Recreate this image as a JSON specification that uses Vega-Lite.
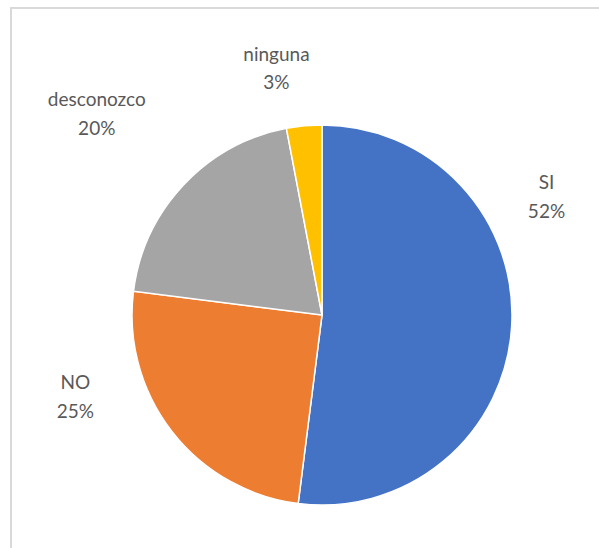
{
  "$schema": "https://vega.github.io/schema/vega-lite/v6.json",
  "autosize": {"type": "none"},
  "width": 622,
  "height": 614,
  "padding": {"left": 11, "top": 8, "right": 0, "bottom": 0},
  "background": "white",
  "config": {
    "view": {"stroke": null},
    "font": "Lato"
  },
  "data": {
    "values": [
      {"categoria": "SI", "valor": 0.52, "orden": 1},
      {"categoria": "NO", "valor": 0.25, "orden": 2},
      {"categoria": "desconozco", "valor": 0.20, "orden": 3},
      {"categoria": "ninguna", "valor": 0.03, "orden": 4}
    ]
  },
  "transform": [
    {"calculate": "datum.categoria + '\\n' + format(datum.valor, '.0%')", "as": "etiqueta"}
  ],
  "layer": [
    {
      "mark": {"type": "rect", "fill": null, "stroke": "#d9d9d9", "strokeWidth": 1.5},
      "encoding": {}
    },
    {
      "mark": {"type": "arc", "radius": 190, "stroke": "white", "strokeWidth": 1.5},
      "encoding": {
        "theta": {"field": "valor", "type": "quantitative", "stack": true},
        "order": {"field": "orden", "type": "quantitative"},
        "color": {
          "field": "categoria",
          "type": "nominal",
          "scale": {"domain": ["SI", "NO", "desconozco", "ninguna"], "range": ["#4472C4", "#ED7D31", "#A5A5A5", "#FFC000"]},
          "legend": null
        }
      }
    },
    {
      "mark": {"type": "text", "radius": 250, "dx": -25, "dy": -148, "fontSize": 19, "color": "#595959", "lineBreak": "\n", "lineHeight": 29, "align": "center", "baseline": "middle"},
      "encoding": {
        "theta": {"field": "valor", "type": "quantitative", "stack": true},
        "order": {"field": "orden", "type": "quantitative"},
        "text": {"condition": {"test": "datum.categoria == 'SI'", "field": "etiqueta"}, "value": ""}
      }
    },
    {
      "mark": {"type": "text", "radius": 250, "dx": -49, "dy": -85, "fontSize": 19, "color": "#595959", "lineBreak": "\n", "lineHeight": 29, "align": "center", "baseline": "middle"},
      "encoding": {
        "theta": {"field": "valor", "type": "quantitative", "stack": true},
        "order": {"field": "orden", "type": "quantitative"},
        "text": {"condition": {"test": "datum.categoria == 'NO'", "field": "etiqueta"}, "value": ""}
      }
    },
    {
      "mark": {"type": "text", "radius": 250, "dx": -43, "dy": -44, "fontSize": 19, "color": "#595959", "lineBreak": "\n", "lineHeight": 29, "align": "center", "baseline": "middle"},
      "encoding": {
        "theta": {"field": "valor", "type": "quantitative", "stack": true},
        "order": {"field": "orden", "type": "quantitative"},
        "text": {"condition": {"test": "datum.categoria == 'desconozco'", "field": "etiqueta"}, "value": ""}
      }
    },
    {
      "mark": {"type": "text", "radius": 250, "dx": -22, "dy": -11, "fontSize": 19, "color": "#595959", "lineBreak": "\n", "lineHeight": 28, "align": "center", "baseline": "middle"},
      "encoding": {
        "theta": {"field": "valor", "type": "quantitative", "stack": true},
        "order": {"field": "orden", "type": "quantitative"},
        "text": {"condition": {"test": "datum.categoria == 'ninguna'", "field": "etiqueta"}, "value": ""}
      }
    }
  ]
}
